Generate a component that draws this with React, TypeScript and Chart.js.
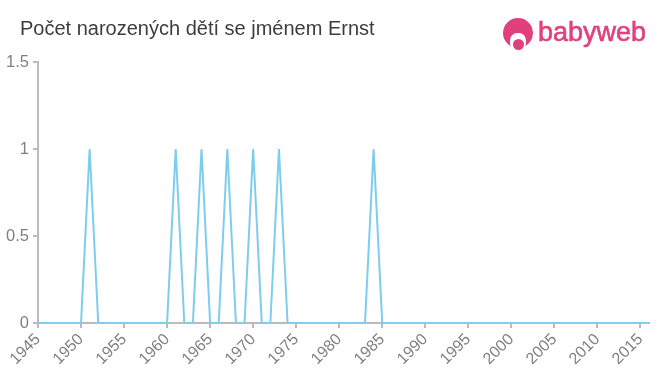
import React, { useEffect, useRef } from "react";
import { Chart, registerables } from "chart.js";

Chart.register(...registerables);

const title = "Počet narozených dětí se jménem Ernst";

const years = [
  1945, 1946, 1947, 1948, 1949, 1950, 1951, 1952, 1953, 1954,
  1955, 1956, 1957, 1958, 1959, 1960, 1961, 1962, 1963, 1964,
  1965, 1966, 1967, 1968, 1969, 1970, 1971, 1972, 1973, 1974,
  1975, 1976, 1977, 1978, 1979, 1980, 1981, 1982, 1983, 1984,
  1985, 1986, 1987, 1988, 1989, 1990, 1991, 1992, 1993, 1994,
  1995, 1996, 1997, 1998, 1999, 2000, 2001, 2002, 2003, 2004,
  2005, 2006, 2007, 2008, 2009, 2010, 2011, 2012, 2013, 2014,
  2015, 2016,
];

const births = [
  0, 0, 0, 0, 0, 0, 1, 0, 0, 0,
  0, 0, 0, 0, 0, 0, 1, 0, 0, 1,
  0, 0, 1, 0, 0, 1, 0, 0, 1, 0,
  0, 0, 0, 0, 0, 0, 0, 0, 0, 1,
  0, 0, 0, 0, 0, 0, 0, 0, 0, 0,
  0, 0, 0, 0, 0, 0, 0, 0, 0, 0,
  0, 0, 0, 0, 0, 0, 0, 0, 0, 0,
  0, 0,
];

const yTicks = [0, 0.5, 1, 1.5];

const FONT = "'Liberation Sans', Arial, Helvetica, sans-serif";
const PINK = "#e0417c";

export default function App() {
  const ref = useRef<HTMLCanvasElement | null>(null);

  useEffect(() => {
    if (!ref.current) return;
    const chart = new Chart(ref.current, {
      type: "line",
      data: {
        datasets: [
          {
            data: years.map((y, i) => ({ x: y, y: births[i] })),
            borderColor: "#7ecdec",
            borderWidth: 2,
            pointRadius: 0,
            tension: 0,
            fill: false,
          },
        ],
      },
      options: {
        responsive: false,
        animation: false,
        layout: { padding: { left: 0, right: 11, top: 62, bottom: 0 } },
        plugins: { legend: { display: false }, tooltip: { enabled: false } },
        scales: {
          x: {
            type: "linear",
            min: 1945,
            max: 2016,
            afterFit: (s: any) => {
              s.height = 52;
            },
            border: { color: "#bbbbbb", width: 2 },
            grid: { drawOnChartArea: false, color: "#bbbbbb", tickLength: 5, lineWidth: 2 },
            ticks: {
              stepSize: 5,
              includeBounds: false,
              maxRotation: 45,
              minRotation: 45,
              autoSkip: false,
              color: "#808080",
              padding: 2,
              font: { family: FONT, size: 16 },
              callback: (v: any) => String(v),
            },
          },
          y: {
            min: 0,
            max: 1.5,
            afterFit: (s: any) => {
              s.width = 38;
            },
            afterBuildTicks: (s: any) => {
              s.ticks = yTicks.map((v) => ({ value: v }));
            },
            border: { color: "#bbbbbb", width: 2 },
            grid: { drawOnChartArea: false, color: "#bbbbbb", tickLength: 5, lineWidth: 2 },
            ticks: {
              color: "#808080",
              padding: 4,
              font: { family: FONT, size: 16.5 },
              callback: (v: any) => String(v),
            },
          },
        },
      },
    });
    return () => chart.destroy();
  }, []);

  return (
    <div
      style={{
        position: "absolute",
        left: 0,
        top: 0,
        width: 660,
        height: 375,
        background: "#ffffff",
        fontFamily: FONT,
      }}
    >
      <canvas ref={ref} width={660} height={375} style={{ display: "block" }} />
      <div
        style={{
          position: "absolute",
          left: 20,
          top: 17,
          fontSize: 20,
          lineHeight: "23px",
          color: "#3d3d3d",
          whiteSpace: "nowrap",
        }}
      >
        {title}
      </div>
      <div style={{ position: "absolute", left: 503, top: 18, width: 31, height: 31 }}>
        <div
          style={{
            position: "absolute",
            left: 0,
            top: 0,
            width: 30,
            height: 30,
            borderRadius: "50%",
            background: PINK,
          }}
        />
        <div
          style={{
            position: "absolute",
            left: 7,
            top: 15,
            width: 16,
            height: 18,
            borderRadius: "45%",
            background: "#ffffff",
          }}
        />
        <div
          style={{
            position: "absolute",
            left: 9.5,
            top: 20.5,
            width: 11,
            height: 11,
            borderRadius: "50%",
            background: PINK,
          }}
        />
      </div>
      <div
        style={{
          position: "absolute",
          left: 538,
          top: 17,
          fontSize: 27,
          lineHeight: "30px",
          color: PINK,
          whiteSpace: "nowrap",
          WebkitTextStroke: "0.6px " + PINK,
        }}
      >
        babyweb
      </div>
    </div>
  );
}
